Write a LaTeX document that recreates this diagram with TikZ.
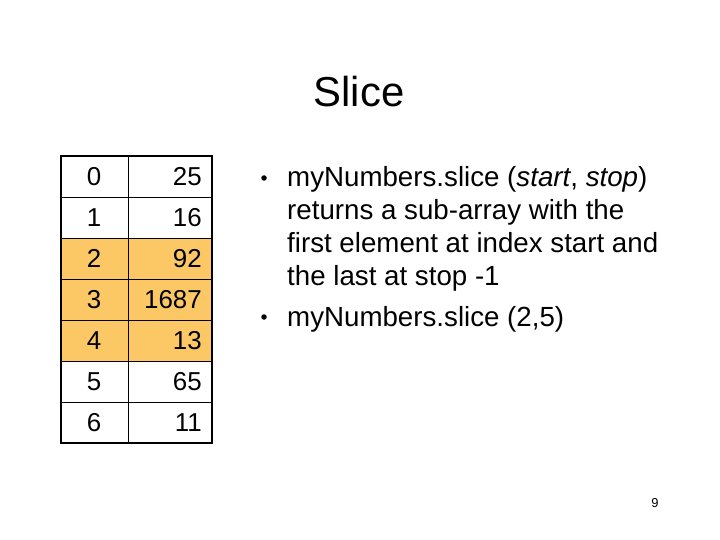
\documentclass[tikz,border=0pt]{standalone}
\usepackage{fontspec}
\setmainfont{Liberation Sans}
\definecolor{hl}{RGB}{252,200,102}
\begin{document}
\begin{tikzpicture}[x=1bp,y=-1bp,
  cell/.style={draw=black,line width=0.8bp},
  idx/.style={font=\fontsize{26}{30}\selectfont,anchor=center,inner sep=0},
  val/.style={font=\fontsize{26}{30}\selectfont,anchor=east,inner sep=0},
  txt/.style={font=\fontsize{27.8}{32}\selectfont,anchor=base west,inner sep=0},
  bul/.style={circle,fill=black,inner sep=0,minimum size=5.5bp}]
\useasboundingbox (0,0) rectangle (720,540);
% highlight
\fill[hl] (61,238) rectangle (212,361);
% grid
\foreach \i in {1,...,6}{\draw[line width=0.8bp] (61,{156+41*\i}) -- (212,{156+41*\i});}
\draw[line width=0.8bp] (128,156) -- (128,443);
\draw[line width=2.2bp] (61,156) rectangle (212,443);
% contents
\foreach \n/\v [count=\k from 0] in {0/25,1/16,2/92,3/1687,4/13,5/65,6/11}{
  \node[idx] (i\n) at (94,{156+41*\k+20.5}) {\n};
  \node[val] (v\n) at (202,{156+41*\k+20.5}) {\v};
}
% title
\node[font=\fontsize{42}{48}\selectfont,anchor=base,inner sep=0] (title) at (359,107) {Slice};
% bullets
\node[bul] (b1) at (264,178) {};
\node[txt] (l1) at (287,187) {myNumbers.slice (\textit{start}, \textit{stop})};
\node[txt] (l2) at (287,220) {returns a sub-array with the};
\node[txt] (l3) at (287,253) {first element at index start and};
\node[txt] (l4) at (287,286) {the last at stop -1};
\node[bul] (b2) at (264,317) {};
\node[txt] (l5) at (287,326) {myNumbers.slice (2,5)};
% page number
\node[font=\fontsize{13}{15}\selectfont,anchor=center,inner sep=0] (pg) at (655,503) {9};
\end{tikzpicture}
\end{document}
